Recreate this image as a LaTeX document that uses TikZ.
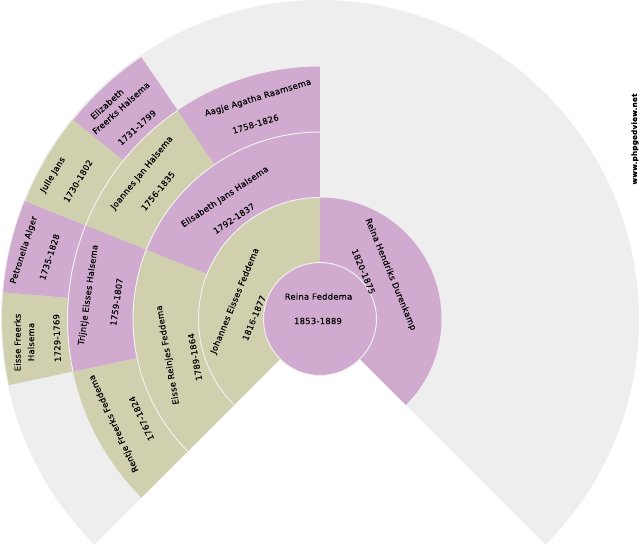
\documentclass[tikz,border=0pt]{standalone}
\usepackage{fontspec}
\setmainfont[LetterSpace=3,FakeBold=0.1]{DejaVu Sans}
\tikzset{
	malefan/.style={fill={rgb,255:red,208;green,208;blue,174}},
	femalefan/.style={fill={rgb,255:red,208;green,170;blue,207}},
	emptyfan/.style={fill={rgb,255:red,238;green,238;blue,238}},
	ringline/.style={draw={rgb,255:red,240;green,240;blue,240},line width=1pt},
	fanlabel/.style={inner sep=0pt,font=\fontsize{8.4}{10}\selectfont},
	sitelabel/.style={inner sep=0pt,font=\fontsize{7.2}{8}\selectfont\bfseries}
}
\begin{document}
\begin{tikzpicture}[x=1pt,y=1pt]
\useasboundingbox (-320,-231) rectangle (320,319);
\fill[emptyfan] (0,0) -- (225:319) arc[start angle=225,end angle=-45,radius=319] -- cycle;
\fill[malefan] (0,0) -- (192:318) arc[start angle=192,end angle=175.2,radius=318] -- cycle;
\fill[femalefan] (0,0) -- (175.2:318) arc[start angle=175.2,end angle=158.2,radius=318] -- cycle;
\fill[malefan] (0,0) -- (158.2:317.5) arc[start angle=158.2,end angle=141.1,radius=317.5] -- cycle;
\fill[femalefan] (0,0) -- (141.1:317) arc[start angle=141.1,end angle=124.3,radius=317] -- cycle;
\fill[malefan] (0,0) -- (225:252.5) arc[start angle=225,end angle=192,radius=252.5] -- cycle;
\fill[femalefan] (0,0) -- (192:252.5) arc[start angle=192,end angle=158.2,radius=252.5] -- cycle;
\fill[malefan] (0,0) -- (158.2:252.5) arc[start angle=158.2,end angle=124.3,radius=252.5] -- cycle;
\fill[femalefan] (0,0) -- (124.3:252.5) arc[start angle=124.3,end angle=90,radius=252.5] -- cycle;
\fill[malefan] (0,0) -- (225:187) arc[start angle=225,end angle=158.2,radius=187] -- cycle;
\fill[femalefan] (0,0) -- (158.2:187) arc[start angle=158.2,end angle=90,radius=187] -- cycle;
\fill[malefan] (0,0) -- (225:121.5) arc[start angle=225,end angle=90,radius=121.5] -- cycle;
\fill[femalefan] (0,0) -- (90:121.5) arc[start angle=90,end angle=-45,radius=121.5] -- cycle;
\draw[ringline] (192:252.5) arc[start angle=192,end angle=124.3,radius=252.5];
\draw[ringline] (225:187) arc[start angle=225,end angle=90,radius=187];
\draw[ringline] (225:121.5) arc[start angle=225,end angle=90,radius=121.5];
\draw[ringline,femalefan] (0,0) circle[radius=56.5];
\begin{scope}[x=1pt,y=-1pt,shift={(-320,-319)}]
\node[fanlabel] (reina) at (318.5,296.5) {Reina Feddema};
\node[fanlabel] (reinayears) at (318,321) {1853-1889};
\node[fanlabel,rotate=67.5] (johannes) at (235,301) {Johannes Eisses Feddema};
\node[fanlabel,rotate=67.5] (johannesyears) at (254,318) {1816-1877};
\node[fanlabel,rotate=-67.5] (hendriks) at (390.5,274.5) {Reina Hendriks Durenkamp};
\node[fanlabel,rotate=-67.5] (hendriksyears) at (363.5,271.5) {1820-1875};
\node[fanlabel,rotate=100] (reinjes) at (168,355) {Eisse Reinjes Feddema};
\node[fanlabel,rotate=100] (reinjesyears) at (195,357) {1789-1864};
\node[fanlabel,rotate=33.75] (elisabeth) at (225,197) {Elisabeth Jans Halsema};
\node[fanlabel,rotate=33.75] (elisabethyears) at (234,218.5) {1792-1837};
\node[fanlabel,rotate=115] (rentje) at (114,423.5) {Rentje Freerks Feddema};
\node[fanlabel,rotate=115] (rentjeyears) at (141.5,418.5) {1767-1824};
\node[fanlabel,rotate=82] (trijntje) at (88.5,295) {Trijntje Eisses Halsema};
\node[fanlabel,rotate=82] (trijntjeyears) at (116.5,302) {1759-1807};
\node[fanlabel,rotate=50.6] (joannes) at (142,173) {Joannes Jan Halsema};
\node[fanlabel,rotate=50.6] (joannesyears) at (158,191) {1756-1835};
\node[fanlabel,rotate=16.9] (aagje) at (258,98) {Aagje Agatha Raamsema};
\node[fanlabel,rotate=16.9] (aagjeyears) at (255.5,124) {1758-1826};
\node[fanlabel,rotate=90] (freerks) at (17.5,342.5) {Eisse Freerks};
\node[fanlabel,rotate=90] (freerkslast) at (31,342) {Halsema};
\node[fanlabel,rotate=92] (freerksyears) at (57,338) {1729-1769};
\node[fanlabel,rotate=72] (petronella) at (24,250) {Petronella Alger};
\node[fanlabel,rotate=72] (petronellayears) at (49.5,257) {1735-1828};
\node[fanlabel,rotate=59] (julle) at (53,175) {Julle Jans};
\node[fanlabel,rotate=59] (julleyears) at (78,181) {1730-1802};
\node[fanlabel,rotate=42] (elizabeth) at (107,104) {Elizabeth};
\node[fanlabel,rotate=42] (elizabethlast) at (121,108) {Freerks Halsema};
\node[fanlabel,rotate=42] (elizabethyears) at (137,127.5) {1731-1799};
\node[sitelabel,rotate=90] (site) at (635,139) {www.phpgedview.net};
\end{scope}
\end{tikzpicture}
\end{document}
